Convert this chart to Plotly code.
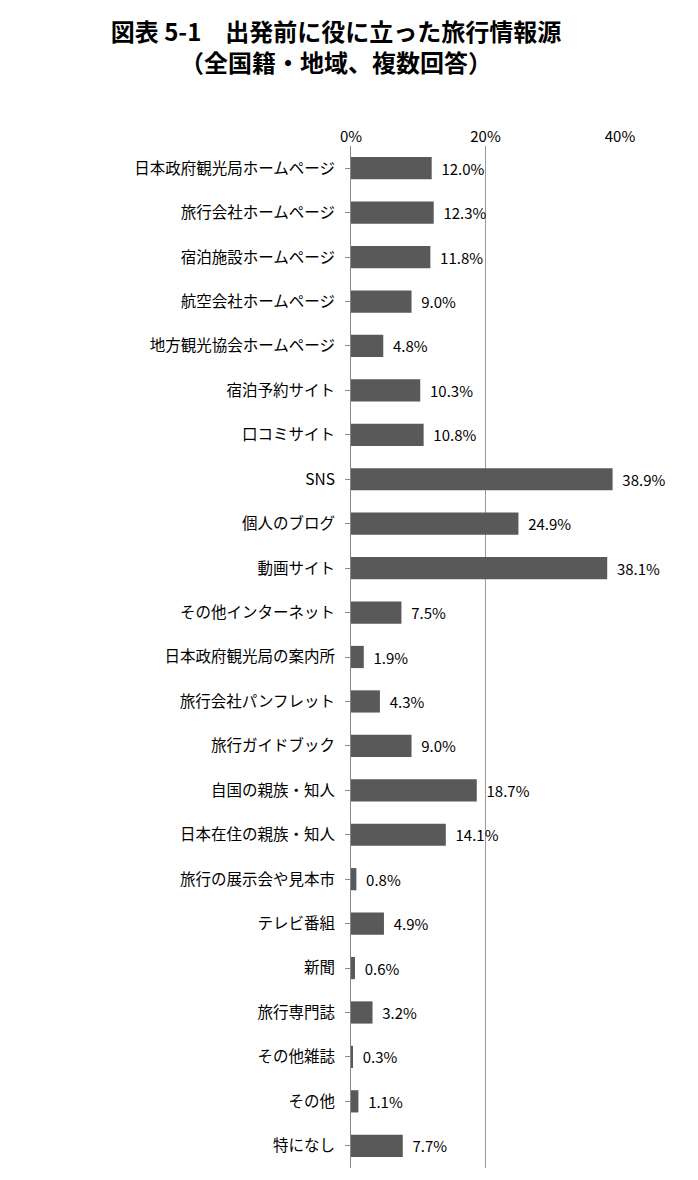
import plotly.graph_objects as go

categories = ["日本政府観光局ホームページ", "旅行会社ホームページ", "宿泊施設ホームページ", "航空会社ホームページ",
              "地方観光協会ホームページ", "宿泊予約サイト", "口コミサイト", "SNS", "個人のブログ", "動画サイト",
              "その他インターネット", "日本政府観光局の案内所", "旅行会社パンフレット", "旅行ガイドブック",
              "自国の親族・知人", "日本在住の親族・知人", "旅行の展示会や見本市", "テレビ番組", "新聞",
              "旅行専門誌", "その他雑誌", "その他", "特になし"]
values = [12.0, 12.3, 11.8, 9.0, 4.8, 10.3, 10.8, 38.9, 24.9, 38.1, 7.5, 1.9, 4.3, 9.0,
          18.7, 14.1, 0.8, 4.9, 0.6, 3.2, 0.3, 1.1, 7.7]

fnt = "Noto Sans CJK JP"

fig = go.Figure(go.Bar(
    x=values, y=categories, orientation="h",
    marker=dict(color="#595959", line=dict(width=0)),
    text=[f"  {v:.1f}%" for v in values], textposition="outside",
    textfont=dict(size=15, color="black", family=fnt),
    cliponaxis=False, width=0.5,
))

fig.update_layout(
    width=698, height=1180,
    margin=dict(l=343, r=86, t=138, b=20, autoexpand=False),
    paper_bgcolor="white", plot_bgcolor="white",
    showlegend=False,
    font=dict(family=fnt, color="black"),
    title=dict(text="<b>図表 5-1　出発前に役に立った旅行情報源<br>（全国籍・地域、複数回答）</b>",
               x=0.47, xanchor="center", y=0.972, yanchor="top",
               font=dict(size=24, family=fnt, color="black")),
    xaxis=dict(side="top", range=[0, 40], tickvals=[0, 20, 40], ticktext=["0%", "20%", "40%"],
               showgrid=True, gridcolor="#9a9a9a", gridwidth=1, zeroline=False,
               tickfont=dict(size=15), ticks="", showline=False),
    yaxis=dict(autorange="reversed", tickfont=dict(size=15.5), ticks="outside", ticklen=5,
               tickcolor="#888", showline=True, linecolor="#888", linewidth=1, ticksuffix="  "),
)

fig.write_html("out.html")
